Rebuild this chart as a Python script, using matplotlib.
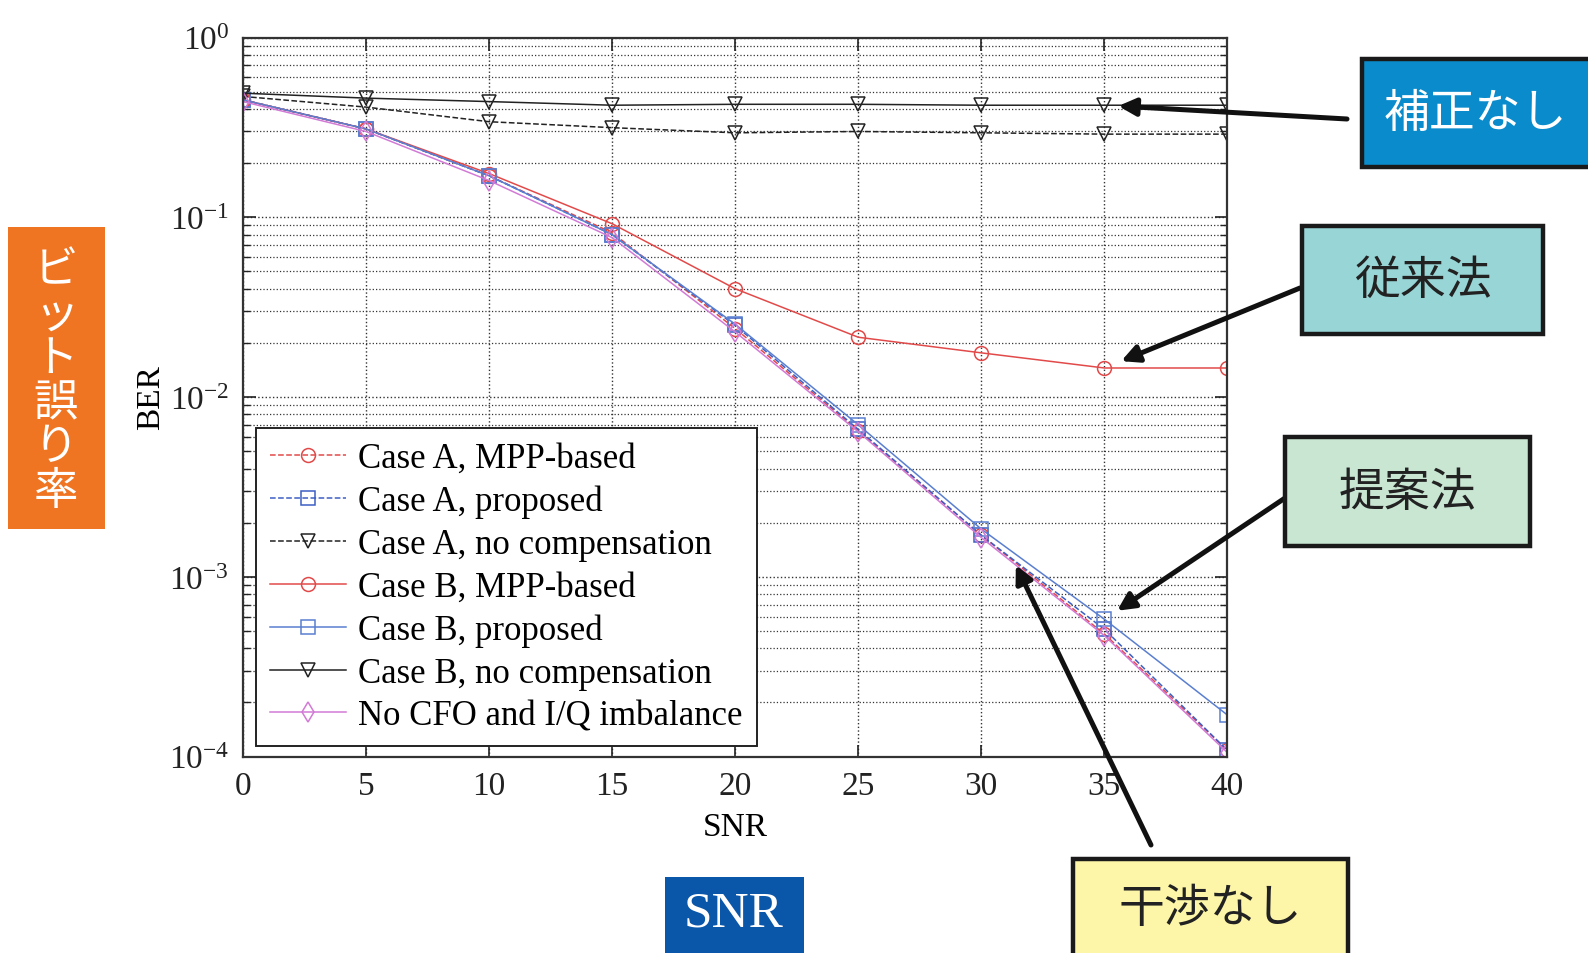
import numpy as np
import matplotlib
matplotlib.use("Agg")
import matplotlib.pyplot as plt
from matplotlib.patches import Rectangle
from matplotlib.ticker import FixedLocator, LogLocator, NullFormatter

# ------------------------------------------------------------
# Data
# ------------------------------------------------------------
snr = [0, 5, 10, 15, 20, 25, 30, 35, 40]

ber_a_mpp = [0.45, 0.31, 0.170, 0.082, 0.0240, 0.0065, 0.00170, 4.8e-4, 1.08e-4]
ber_a_prop = [0.45, 0.31, 0.170, 0.080, 0.0250, 0.0066, 0.00170, 5.1e-4, 1.08e-4]
ber_a_nocomp = [0.47, 0.41, 0.340, 0.315, 0.295, 0.300, 0.295, 0.290, 0.290]
ber_b_mpp = [0.45, 0.31, 0.175, 0.092, 0.0400, 0.0215, 0.0176, 0.0145, 0.0145]
ber_b_prop = [0.45, 0.31, 0.170, 0.080, 0.0254, 0.0070, 0.00184, 5.8e-4, 1.7e-4]
ber_b_nocomp = [0.49, 0.46, 0.440, 0.420, 0.425, 0.425, 0.420, 0.420, 0.420]
ber_ideal = [0.44, 0.30, 0.160, 0.077, 0.0230, 0.0064, 0.00165, 4.7e-4, 1.05e-4]

legend_labels = [
    "Case A, MPP-based",
    "Case A, proposed",
    "Case A, no compensation",
    "Case B, MPP-based",
    "Case B, proposed",
    "Case B, no compensation",
    "No CFO and I/Q imbalance",
]

x_ticks = [0, 5, 10, 15, 20, 25, 30, 35, 40]
y_exponents = [-4, -3, -2, -1, 0]

# ------------------------------------------------------------
# Style
# ------------------------------------------------------------
W, H = 1588, 954
SERIF = ["Liberation Serif", "DejaVu Serif"]
CJK = ["Noto Sans CJK JP", "DejaVu Sans"]

RED = "#e24a4a"
BLUE = "#3d5fc4"
PINK = "#d27ad6"
BLACK = "#222222"

plt.rcParams["font.family"] = SERIF
plt.rcParams["mathtext.fontset"] = "custom"
plt.rcParams["mathtext.rm"] = "Liberation Serif"
plt.rcParams["mathtext.it"] = "Liberation Serif:italic"


def px_box(x0, y0, x1, y1):
    """Pixel box (top-left origin) -> figure-fraction rectangle args."""
    return (x0 / W, 1 - y1 / H), (x1 - x0) / W, (y1 - y0) / H


def px_pt(x, y):
    return (x / W, 1 - y / H)


fig = plt.figure(figsize=(W / 100, H / 100), dpi=100)
fig.patch.set_facecolor("white")

ax = fig.add_axes([243 / W, 1 - 757.5 / H, (1227.5 - 243) / W, (757.5 - 38.5) / H])

line_kw = dict(linewidth=1.1, markersize=10, markerfacecolor="none", markeredgewidth=1.1)

series = [
    (ber_a_mpp, RED, "--", "o"),
    (ber_a_prop, BLUE, "--", "s"),
    (ber_a_nocomp, BLACK, "--", "v"),
    (ber_b_mpp, RED, "-", "o"),
    (ber_b_prop, "#5a7fd0", "-", "s"),
    (ber_b_nocomp, BLACK, "-", "v"),
    (ber_ideal, PINK, "-", "d"),
]

for (vals, color, ls, mk), label in zip(series, legend_labels):
    ax.semilogy(snr, vals, color=color, linestyle=ls, marker=mk,
                markeredgecolor=color, label=label, **line_kw)

ax.set_xlim(0, 40)
ax.set_ylim(1e-4, 1)
ax.xaxis.set_major_locator(FixedLocator(x_ticks))
ax.yaxis.set_major_locator(FixedLocator([10.0 ** e for e in y_exponents]))
ax.yaxis.set_minor_locator(LogLocator(base=10, subs=np.arange(2, 10)))
ax.yaxis.set_minor_formatter(NullFormatter())
ax.set_xticklabels([str(t) for t in x_ticks])
ax.set_yticklabels([r"$\mathregular{10^{%d}}$" % e for e in y_exponents])

ax.tick_params(axis="both", which="both", direction="in", top=True, right=True,
               labelsize=24, colors=BLACK)
ax.tick_params(axis="both", which="major", length=9, width=1.2, pad=10)
ax.tick_params(axis="y", which="minor", length=5, width=1.0)

ax.grid(True, which="major", linestyle=":", color="#333333", linewidth=1.0)
ax.grid(True, which="minor", axis="y", linestyle=":", color="#333333", linewidth=0.9)

for spine in ax.spines.values():
    spine.set_color("#333333")
    spine.set_linewidth(1.6)

ax.set_xlabel("SNR", fontsize=24, labelpad=8)
ax.set_ylabel("BER", fontsize=24, labelpad=2)

leg = ax.legend(loc="lower left", bbox_to_anchor=(0.013, 0.014), borderaxespad=0,
                fontsize=25, numpoints=1, handlelength=2.2, handletextpad=0.35,
                labelspacing=0.28, borderpad=0.4, fancybox=False, framealpha=1)
leg.get_frame().set_edgecolor(BLACK)
leg.get_frame().set_linewidth(1.4)

# ------------------------------------------------------------
# Annotation boxes (Japanese callouts)
# ------------------------------------------------------------
boxes = [
    ((1362, 60, 1600, 168), "#0a8ccc", "補正なし", "white", 33),
    ((1302, 227, 1543, 335), "#98d5d6", "従来法", "#222222", 33),
    ((1285, 438, 1530, 547), "#c8e6d2", "提案法", "#222222", 33),
    ((1073, 860, 1348, 958), "#fdf6a8", "干渉なし", "#222222", 33),
]
for (x0, y0, x1, y1), fc, txt, tc, fs in boxes:
    xy, w, h = px_box(x0, y0, x1, y1)
    fig.add_artist(Rectangle(xy, w, h, transform=fig.transFigure, facecolor=fc,
                             edgecolor="#1a1a1a", linewidth=3.2, zorder=5))
    cx = (x0 + min(x1, 1588)) / 2
    fig.text(*px_pt(cx, (y0 + y1) / 2), txt, color=tc, fontsize=fs, family=CJK,
             ha="center", va="center", zorder=6)

# vertical "bit error rate" label
xy, w, h = px_box(8, 228, 105, 530)
fig.add_artist(Rectangle(xy, w, h, transform=fig.transFigure, facecolor="#f07522",
                         edgecolor="none", zorder=5))
fig.text(*px_pt(56, 381), "\n".join("ビット誤り率"), color="white", fontsize=32,
         family=CJK, ha="center", va="center", linespacing=0.95, zorder=6)

# "SNR" box
xy, w, h = px_box(665, 878, 804, 960)
fig.add_artist(Rectangle(xy, w, h, transform=fig.transFigure, facecolor="#0a56a8",
                         edgecolor="none", zorder=5))
fig.text(*px_pt(734, 914), "SNR", color="white", fontsize=37, family=SERIF,
         ha="center", va="center", zorder=6)

# ------------------------------------------------------------
# Arrows from the callouts to the curves
# ------------------------------------------------------------
arrow_kw = dict(arrowstyle="-|>", color="#111111", lw=3.6, mutation_scale=26, shrinkA=0)

# interpolate a point on the ideal curve between SNR 30 and 35
frac = 0.28
x_ideal = snr[6] + frac * (snr[7] - snr[6])
y_ideal = 10 ** (np.log10(ber_ideal[6]) + frac * (np.log10(ber_ideal[7]) - np.log10(ber_ideal[6])))

targets = [
    ((snr[7], ber_b_nocomp[7]), px_pt(1347, 120), 10),
    ((snr[7], ber_b_mpp[7]), px_pt(1300, 289), 13),
    ((snr[7], ber_b_prop[7]), px_pt(1288, 497), 11),
    ((x_ideal, y_ideal), px_pt(1151, 846), 0),
]
for xy_data, xy_tail, shrink in targets:
    ax.annotate("", xy=xy_data, xycoords="data", xytext=xy_tail,
                textcoords="figure fraction", annotation_clip=False,
                arrowprops=dict(shrinkB=shrink, **arrow_kw), zorder=7)

fig.savefig("out.png", dpi=100)
